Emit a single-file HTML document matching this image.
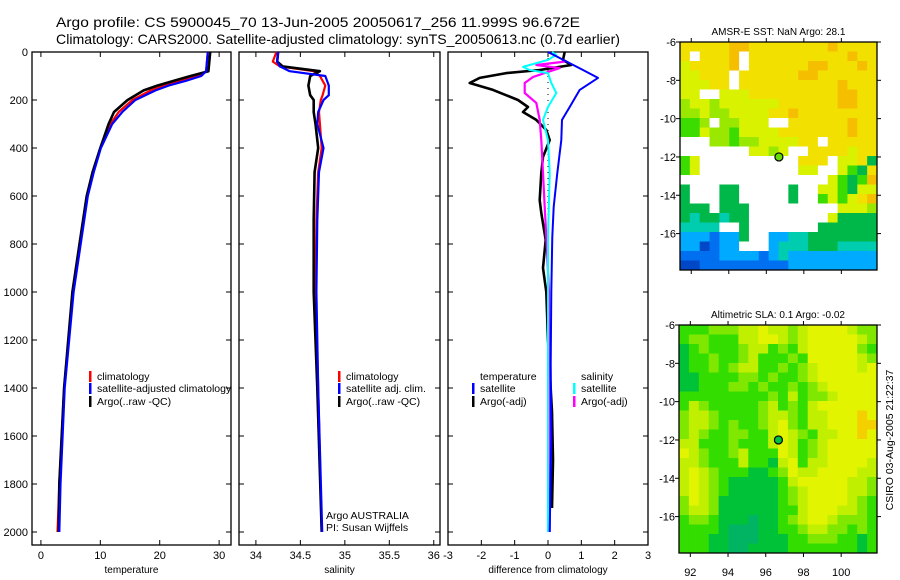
<!DOCTYPE html>
<html><head><meta charset="utf-8"><style>
html,body{margin:0;padding:0;background:#fff;}
svg{display:block;font-family:"Liberation Sans",sans-serif;}
</style></head><body>
<svg id="chart" width="900" height="580" viewBox="0 0 900 580" xmlns="http://www.w3.org/2000/svg">
<text x="56" y="27" font-size="14" textLength="524" lengthAdjust="spacingAndGlyphs">Argo profile: CS 5900045_70 13-Jun-2005 20050617_256 11.999S 96.672E</text>
<text x="56" y="44" font-size="14" textLength="564" lengthAdjust="spacingAndGlyphs">Climatology: CARS2000. Satellite-adjusted climatology: synTS_20050613.nc (0.7d earlier)</text>
<g id="g"></g>
</svg>
<script>
// ---- data ----
const depthTicks = [0,200,400,600,800,1000,1200,1400,1600,1800,2000];
const tempTicks = [0,10,20,30];
const salTicks = [34,34.5,35,35.5,36];
const diffTicks = [-3,-2,-1,0,1,2,3];
const depthT = [0,80,100,120,140,160,200,250,300,400,500,600,800,1000,1400,1800,2000];
const tempClim = [28.1,27.8,26.5,23.6,20.7,18.5,15.4,13.1,11.7,10,8.8,7.8,6.6,5.4,3.9,3.1,2.8];
const tempSat = [28.1,27.8,27,24.4,21.5,19.3,15.9,13.7,12,10.1,8.9,7.9,6.7,5.5,4,3.3,3.1];
const tempArgo = [28.5,28.2,25.2,22.4,19.6,17.3,14.6,12.3,11.4,10,8.7,7.7,6.5,5.3,3.9,3.1,3.0];
const depthS = [0,40,60,80,100,140,180,200,250,300,400,500,700,1000,1400,2000];
const salClim = [34.23,34.19,34.27,34.65,34.72,34.78,34.75,34.73,34.71,34.72,34.74,34.7,34.68,34.67,34.7,34.74];
const salSat = [34.25,34.24,34.27,34.38,34.78,34.82,34.82,34.76,34.7,34.69,34.76,34.71,34.69,34.68,34.7,34.745];
const salArgo = [34.25,34.24,34.3,34.72,34.61,34.59,34.61,34.65,34.65,34.67,34.7,34.66,34.65,34.65,34.69,34.74];
const dTsatDepth = [0,75,108,158,229,283,367,504,645,770,1000,1300,1600,2000];
const dTsat = [0,1.05,1.5,0.95,0.65,0.42,0.4,0.28,0.17,0.13,0.1,0.08,0.1,0.05];
const dTargDepth = [0,33,54,75,88,108,129,158,200,229,250,283,325,367,437,504,617,671,783,900,1000,1200,1500,1700,1900];
const dTarg = [0.5,0.45,0.7,-0.25,-1.25,-2.05,-2.35,-1.65,-0.9,-0.6,-0.75,-0.35,-0.05,0.05,-0.15,-0.2,-0.25,-0.2,-0.07,-0.15,-0.05,0.0,0.12,0.15,0.12];
const dSsatDepth = [0,12,33,62,75,88,129,171,229,283,367,504,770,2000];
const dSsat = [0.12,0.25,0,-0.75,-0.55,0,0.1,0.25,0,-0.15,0,0.05,0,0];
const dSargDepth = [40,54,67,83,104,129,171,212,283,367,504,645,770,1000,2000];
const dSarg = [0.5,-0.35,0.35,0,-0.45,-0.7,-0.7,-0.35,-0.25,-0.2,-0.15,-0.1,-0.05,0.03,0.05];
const latTicks = [-6,-8,-10,-12,-14,-16];
const lonTicks = [92,94,96,98,100];
const sstGrid = [
"YYYYYOOYYYYYYYYOYYYY","YWYYYOWYYYYYYYYYYOYY","LYYYYOWYYYYYYOOYYYOY","LLYYYWYYYYYYOOYYYYYY",
"LLLYYWYYYYYYYYYYOYYY","LLWWLLLYYYYYYYYYOOYY","GLLGLLLLLLYYYYYYOOYY","GGLGGLLLLYYOYYYYYYYY",
"ggGWGGLLLWWYYYYYYOYY","ggLGGgLLLLYYYYYYYOYY","WWWGGgGGLLLLYYWYYYYY","WWWWWWWLLGLWWYYYYLYY",
"gLWWWWWWWWWWYYYWLLYD","gLWWWWWWWWWWLLWWLgDY","WWWWWWWWWWWWWWWLgDgO","DWWWDDWWWWWDWWLLgDLL",
"DWWWDDWWWWWDWWgLgLYO","DDDWDDDWWWWWWWWWLLLG","DTDDTDDWWWWWWWWLDDDD","TTTTWWDWWWWWWWDDDDDD",
"CCCBCCDWWCCTTDDDDDDD","CCNBCCWWWCTTTDDDTTTT","BBBBCCCCBCTCCCCCCCCC","NNBBBBBBBBBCCCCCCCCC"];
const slaGrid = [
"gggGGGLLYLLGLYYYYLGG","gGGgggLLYYLGLYYYYYLG","DgGgggGLLgGgLYYYYYGg","DggGggGLgggGgYYYYYLG",
"DggGgGLLggGgGLYYYYLY","DDggggGGgGggGLYYYYYY","DDgggGGgGggGgGLYYYYY","gggggggggGgLgGGLYYYY",
"gLGgggggGLgGgLYYYYYY","GLLGggggGLLGgLLYYYOY","GLLGgGggGLYGgLLYYYOO","GLGggGGggLYLGgLLYYOY",
"LLgggGgggLYLgGLYYYYY","YLGggGLgggYLgGLYYYYY","LLGgggLggDLYgLLYYYYL","LYLGgggDDgGYLLYYYYLL",
"LYLGgDDDDDgLYYYYYLLG","LYLGgDDDDDgGLYYYYLLG","GYLGDDDDDDgGLYYYYLGg","GLLGDDDDDDggLYYYLLGg",
"gGGgDDDTDDgGLYYLGGGg","ggggDTTTDDggGLLGGgGg","gggDDTTTDDDggGGGggDg","gggDDTTDDDDgggggggDg"];
const argoLon = 96.672, argoLat = -11.999;

// ---- helpers ----
const NS="http://www.w3.org/2000/svg";
const root=document.getElementById('g');
function el(tag,attrs,parent){const e=document.createElementNS(NS,tag);for(const k in attrs)e.setAttribute(k,attrs[k]);(parent||root).appendChild(e);return e;}
function txt(x,y,s,size,anchor,parent){const t=el('text',{x:x,y:y,'font-size':size,'text-anchor':anchor||'start'},parent);t.textContent=s;return t;}
const yD = d => 52 + d*0.24;
function panel(name,x0,x1,xmin,xmax,xticks,xlabel,showDepth){
  const g=el('g',{});
  
  
  const sx=v=>x0+(v-xmin)/(xmax-xmin)*(x1-x0);
  const r=el('rect',{x:x0,y:52,width:x1-x0,height:493,fill:'none',stroke:'#000','stroke-width':1.3},g);
  
  
  depthTicks.forEach(d=>{const y=yD(d);
    el('line',{x1:x0,x2:x0+5,y1:y,y2:y,stroke:'#000'},g);
    el('line',{x1:x1-5,x2:x1,y1:y,y2:y,stroke:'#000'},g);
    if(showDepth){const t=txt(28,y+4,String(d),11,'end',g);
      
      }
  });
  xticks.forEach(v=>{const x=sx(v);
    el('line',{x1:x,x2:x,y1:545,y2:540,stroke:'#000'},g);
    el('line',{x1:x,x2:x,y1:52,y2:57,stroke:'#000'},g);
    const t=txt(x,559,String(v),11,'middle',g);
    
    
  });
  const xl=txt((x0+x1)/2,573,xlabel,10,'middle',g);
  
  
  return {g,sx};
}
function line(p,depths,vals,color,w,name,dash){
  const pts=depths.map((d,i)=>p.sx(vals[i]).toFixed(1)+','+yD(d).toFixed(1)).join(' ');
  const l=el('polyline',{points:pts,fill:'none',stroke:color,'stroke-width':w,'stroke-linejoin':'round'},p.g);
  if(dash)l.setAttribute('stroke-dasharray',dash);
  
  
}
function legend(p,x,y,color,label){
  if(color){const b=el('rect',{x:x,y:y-9,width:2.5,height:11,fill:color},p.g);
    
    }
  const t=txt(x+8,y,label,10.5,'start',p.g);
  
  
}

// panel 1
const p1=panel('temperature-panel',32,231,-1.5,32,tempTicks,'temperature',true);
line(p1,depthT,tempClim,'#f00',2.2,'temperature-climatology-line');
line(p1,depthT,tempArgo,'#000',2.6,'temperature-argo-line');
line(p1,depthT,tempSat,'#00f',2.2,'temperature-satellite-line');
legend(p1,89,380,'#f00','climatology');
legend(p1,89,392,'#00f','satellite-adjusted climatology');
legend(p1,89,405,'#000','Argo(..raw -QC)');
// panel 2
const p2=panel('salinity-panel',239,440,33.81,36.07,salTicks,'salinity',false);
line(p2,depthS,salClim,'#f00',2.2,'salinity-climatology-line');
line(p2,depthS,salArgo,'#000',2.6,'salinity-argo-line');
line(p2,depthS,salSat,'#00f',2.2,'salinity-satellite-line');
legend(p2,338,380,'#f00','climatology');
legend(p2,338,392,'#00f','satellite adj. clim.');
legend(p2,338,405,'#000','Argo(..raw -QC)');
const a1=txt(326,519,'Argo AUSTRALIA',10.5,'start',p2.g);


const a2=txt(326,531,'PI: Susan Wijffels',10.5,'start',p2.g);


// panel 3
const p3=panel('difference-panel',448,648,-3,3,diffTicks,'difference from climatology',false);
line(p3,[0,2000],[0,0],'#000',1,'zero-reference-line','1 5');
line(p3,dTargDepth,dTarg,'#000',2.6,'temperature-argo-difference-line');
line(p3,dSargDepth,dSarg,'#f0f',2.2,'salinity-argo-difference-line');
line(p3,dSsatDepth,dSsat,'#0ff',2,'salinity-satellite-difference-line');
line(p3,dTsatDepth,dTsat,'#00f',2,'temperature-satellite-difference-line');
legend(p3,472,380,null,'temperature');
legend(p3,472,392,'#00f','satellite');
legend(p3,472,405,'#000','Argo(-adj)');
legend(p3,573,380,null,'salinity');
legend(p3,573,392,'#0ff','satellite');
legend(p3,573,405,'#f0f','Argo(-adj)');

// maps
const sstCol={Y:'#f2e000',O:'#f5bf00',L:'#d8f200',G:'#9ae800',g:'#3cdc00',D:'#00b84a',T:'#00ccb0',C:'#00aaff',B:'#0070f0',N:'#0048c8',W:'#ffffff'};
const slaCol={g:'#33dd00',G:'#80e800',L:'#c0f000',Y:'#e2f400',O:'#f5d000',D:'#00c238',T:'#00b464'};
function map(name,x0,x1,y0,y1,grid,cols,title,showLon,dotFill){
  const g=el('g',{});
  
  
  const lonMin=91.4,lonMax=101.9,latTop=-6,latBot=-17.9;
  const sx=v=>x0+(v-lonMin)/(lonMax-lonMin)*(x1-x0);
  const sy=v=>y0+(v-latTop)/(latBot-latTop)*(y1-y0);
  const nr=grid.length,nc=grid[0].length,cw=(x1-x0)/nc,ch=(y1-y0)/nr;
  grid.forEach((row,r)=>{for(let c=0;c<nc;c++){
    el('rect',{x:(x0+c*cw).toFixed(2),y:(y0+r*ch).toFixed(2),width:(cw+0.5).toFixed(2),height:(ch+0.5).toFixed(2),fill:cols[row[c]]},g);}});
  const fr=el('rect',{x:x0,y:y0,width:x1-x0,height:y1-y0,fill:'none',stroke:'#000','stroke-width':1.3},g);
  
  
  latTicks.forEach(v=>{const y=sy(v);
    el('line',{x1:x0-4,x2:x0,y1:y,y2:y,stroke:'#000'},g);
    el('line',{x1:x1,x2:x1+4,y1:y,y2:y,stroke:'#000'},g);
    const t=txt(x0-4,y+4,String(v),11,'end',g);
    
    });
  lonTicks.forEach(v=>{const x=sx(v);
    el('line',{x1:x,x2:x,y1:y0-4,y2:y0,stroke:'#000'},g);
    el('line',{x1:x,x2:x,y1:y1,y2:y1+4,stroke:'#000'},g);
    if(showLon){const t=txt(x,576,String(v),11,'middle',g);
      
      }});
  const tt=txt((x0+x1)/2,y0-7,title,10,'middle',g);
  
  
  const dot=el('circle',{cx:sx(argoLon),cy:sy(argoLat),r:4,fill:dotFill,stroke:'#000','stroke-width':1.2},g);
  
  
}
map('sst-map',680,877,42,270,sstGrid,sstCol,'AMSR-E SST: NaN Argo: 28.1',false,'#66dd00');
map('sla-map',679,877,325,553,slaGrid,slaCol,'Altimetric SLA: 0.1 Argo: -0.02',true,'#00c040');
const c=txt(0,0,'CSIRO 03-Aug-2005 21:22:37',10.5,'middle');
c.setAttribute('transform','translate(893,440) rotate(-90)');


</script>
</body></html>
